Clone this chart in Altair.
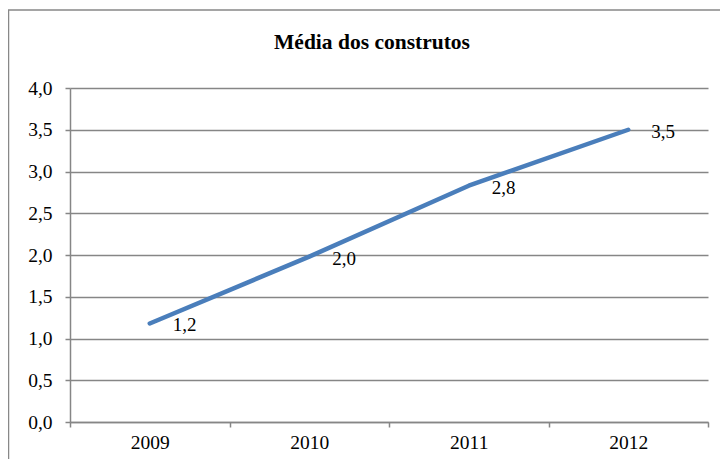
import altair as alt
import pandas as pd

years = ["2009", "2010", "2011", "2012"]
values = [1.18, 1.98, 2.83, 3.50]
y_ticks = [0, 0.5, 1.0, 1.5, 2.0, 2.5, 3.0, 3.5, 4.0]
title_text = ["Média dos construtos"]

df = pd.DataFrame({"year": years, "value": values})

FONT = "Liberation Serif"
GRAY = "#868686"

x_enc = alt.X(
    "year:O",
    scale=alt.Scale(type="band", paddingInner=0, paddingOuter=0),
    axis=alt.Axis(
        title=None, labelAngle=0, tickBand="extent", grid=False,
        domainColor=GRAY, tickColor=GRAY, tickSize=5, domainWidth=1.5, tickWidth=1.5,
        labelFont=FONT, labelFontSize=19.5, labelColor="black", labelPadding=6,
    ),
)
y_enc = alt.Y(
    "value:Q",
    scale=alt.Scale(domain=[0, 4], nice=False),
    axis=alt.Axis(
        title=None, values=y_ticks,
        labelExpr="replace(format(datum.value, '.1f'), '.', ',')",
        grid=True, gridColor=GRAY, gridWidth=1.3,
        domainColor=GRAY, tickColor=GRAY, tickSize=5, domainWidth=1.5, tickWidth=1.5,
        labelFont=FONT, labelFontSize=19.5, labelColor="black", labelPadding=13,
    ),
)

line = alt.Chart(df).mark_line(
    color="#4A7EBB", strokeWidth=4.5, strokeCap="round", strokeJoin="round"
).encode(x=x_enc, y=y_enc)

labels = alt.Chart(df).transform_calculate(
    lab="replace(format(datum.value, '.1f'), '.', ',')"
).mark_text(
    align="left", baseline="middle", dx=23, dy=2, font=FONT, fontSize=19, color="black"
).encode(x=alt.X("year:O"), y=alt.Y("value:Q"), text="lab:N")

border = alt.Chart(pd.DataFrame({"a": [0]})).mark_rect(
    fill="transparent", stroke="#888888", strokeWidth=1.5, clip=False
).encode(
    x=alt.value(-61.5), x2=alt.value(760), y=alt.value(-78), y2=alt.value(460)
)

title = alt.Chart(pd.DataFrame({"t": title_text})).mark_text(
    font=FONT, fontSize=21.5, fontWeight="bold", color="black",
    align="center", baseline="middle", clip=False
).encode(x=alt.value(302), y=alt.value(-45), text="t:N")

chart = alt.layer(border, line, labels, title).properties(
    width=638,
    height=334,
    autosize=alt.AutoSizeParams(type="none"),
    padding={"left": 62, "top": 80, "right": 12, "bottom": 37},
).configure_view(strokeWidth=0)

chart.save("out.html", embed_options={"renderer": "svg", "actions": False})
